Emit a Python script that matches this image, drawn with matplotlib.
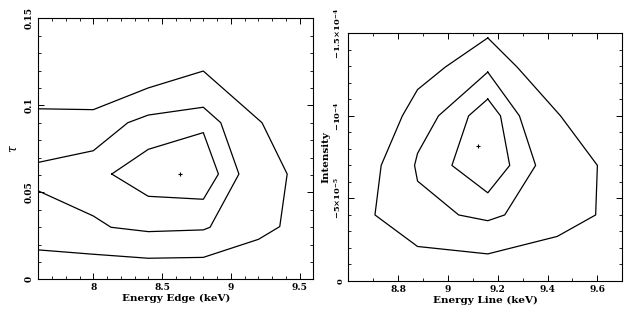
import numpy as np
from matplotlib import pyplot as plt
from matplotlib.ticker import MultipleLocator, FixedLocator

# left panel: tau vs edge energy
edge_outer_x = [7.6, 8.0, 8.4, 8.8, 9.227, 9.41, 9.356, 9.202, 8.8, 8.4, 8.0, 7.6]
edge_outer_y = [0.098, 0.0975, 0.110, 0.1197, 0.090, 0.0605, 0.0303, 0.023, 0.0126, 0.0121, 0.0144, 0.0169]
edge_mid_x = [7.6, 8.0, 8.251, 8.4, 8.8, 8.927, 9.059, 8.849, 8.8, 8.4, 8.129, 8.0, 7.6]
edge_mid_y = [0.0672, 0.0739, 0.090, 0.0944, 0.0989, 0.090, 0.0605, 0.0299, 0.0284, 0.0274, 0.0299, 0.0364, 0.0508]
edge_in_x = [8.134, 8.4, 8.8, 8.91, 8.8, 8.4, 8.134]
edge_in_y = [0.0605, 0.0747, 0.0843, 0.0605, 0.046, 0.0477, 0.0605]
edge_best = (8.634, 0.0605)

# right panel: line intensity vs line energy
line_outer_x = [9.16, 9.278, 9.452, 9.6, 9.593, 9.439, 9.16, 8.878, 8.707, 8.732, 8.817, 8.878, 8.989, 9.16]
line_outer_y = [-1.472e-4, -1.295e-4, -1.0e-4, -0.70e-4, -0.40e-4, -0.27e-4, -0.164e-4, -0.209e-4,
                -0.40e-4, -0.70e-4, -1.0e-4, -1.159e-4, -1.295e-4, -1.472e-4]
line_mid_x = [9.16, 9.287, 9.352, 9.228, 9.16, 9.043, 8.878, 8.866, 8.878, 8.962, 9.16]
line_mid_y = [-1.265e-4, -1.0e-4, -0.70e-4, -0.40e-4, -0.365e-4, -0.40e-4, -0.605e-4, -0.70e-4,
              -0.773e-4, -1.0e-4, -1.265e-4]
line_in_x = [9.16, 9.211, 9.248, 9.16, 9.016, 9.083, 9.16]
line_in_y = [-1.102e-4, -1.0e-4, -0.70e-4, -0.534e-4, -0.70e-4, -1.0e-4, -1.102e-4]
line_best = (9.121, -0.818e-4)

plt.rcParams['font.family'] = 'DejaVu Serif'
plt.rcParams['mathtext.fontset'] = 'dejavuserif'

fig = plt.figure(figsize=(6.35, 3.12), dpi=100)
ax1 = fig.add_axes([0.0603, 0.1048, 0.4331, 0.8365])
ax2 = fig.add_axes([0.5485, 0.0994, 0.4315, 0.7939])

lw = 0.9
for xs, ys in [(edge_outer_x, edge_outer_y), (edge_mid_x, edge_mid_y), (edge_in_x, edge_in_y)]:
    ax1.plot(xs, ys, color='black', lw=lw)
ax1.plot(*edge_best, marker='+', color='black', ms=3, mew=0.8)
ax1.set_xlim(7.6, 9.6)
ax1.set_ylim(0, 0.15)
ax1.xaxis.set_major_locator(FixedLocator([8, 8.5, 9, 9.5]))
ax1.xaxis.set_minor_locator(MultipleLocator(0.1))
ax1.yaxis.set_major_locator(FixedLocator([0, 0.05, 0.1, 0.15]))
ax1.yaxis.set_minor_locator(MultipleLocator(0.01))
ax1.set_xticklabels(['8', '8.5', '9', '9.5'])
ax1.set_yticklabels(['0', '0.05', '0.1', '0.15'], rotation=90, va='center')
ax1.set_xlabel('Energy Edge (keV)', fontsize=7.5, fontweight='bold', labelpad=1)
ax1.set_ylabel(r'$\tau$', fontsize=9, labelpad=4)

for xs, ys in [(line_outer_x, line_outer_y), (line_mid_x, line_mid_y), (line_in_x, line_in_y)]:
    ax2.plot(xs, ys, color='black', lw=lw)
ax2.plot(*line_best, marker='+', color='black', ms=3, mew=0.8)
ax2.set_xlim(8.6, 9.7)
ax2.set_ylim(0, -1.5e-4)
ax2.xaxis.set_major_locator(FixedLocator([8.8, 9.0, 9.2, 9.4, 9.6]))
ax2.xaxis.set_minor_locator(MultipleLocator(0.1))
ax2.yaxis.set_major_locator(FixedLocator([0, -5e-5, -1e-4, -1.5e-4]))
ax2.yaxis.set_minor_locator(MultipleLocator(1e-5))
ax2.set_xticklabels(['8.8', '9', '9.2', '9.4', '9.6'])
ax2.set_yticklabels(['0', '\u22125\u00d710$^{\\mathbf{-5}}$', '\u221210$^{\\mathbf{-4}}$',
                     '\u22121.5\u00d710$^{\\mathbf{-4}}$'],
                    rotation=90, va='center')
ax2.set_xlabel('Energy Line (keV)', fontsize=7.5, fontweight='bold', labelpad=1)
ax2.set_ylabel('Intensity', fontsize=7.5, fontweight='bold', labelpad=2)

for ax in (ax1, ax2):
    ax.tick_params(which='both', direction='in', top=True, right=True, labelsize=6.5)
    ax.tick_params(which='major', length=4.5, width=0.7, pad=3)
    ax.tick_params(which='minor', length=2.2, width=0.6)
    for s in ax.spines.values():
        s.set_linewidth(0.8)
    for lab in ax.get_xticklabels() + ax.get_yticklabels():
        lab.set_fontweight('bold')
for lab in ax2.get_yticklabels():
    lab.set_fontsize(6)

plt.savefig('out.png', dpi=100)
plt.close()
